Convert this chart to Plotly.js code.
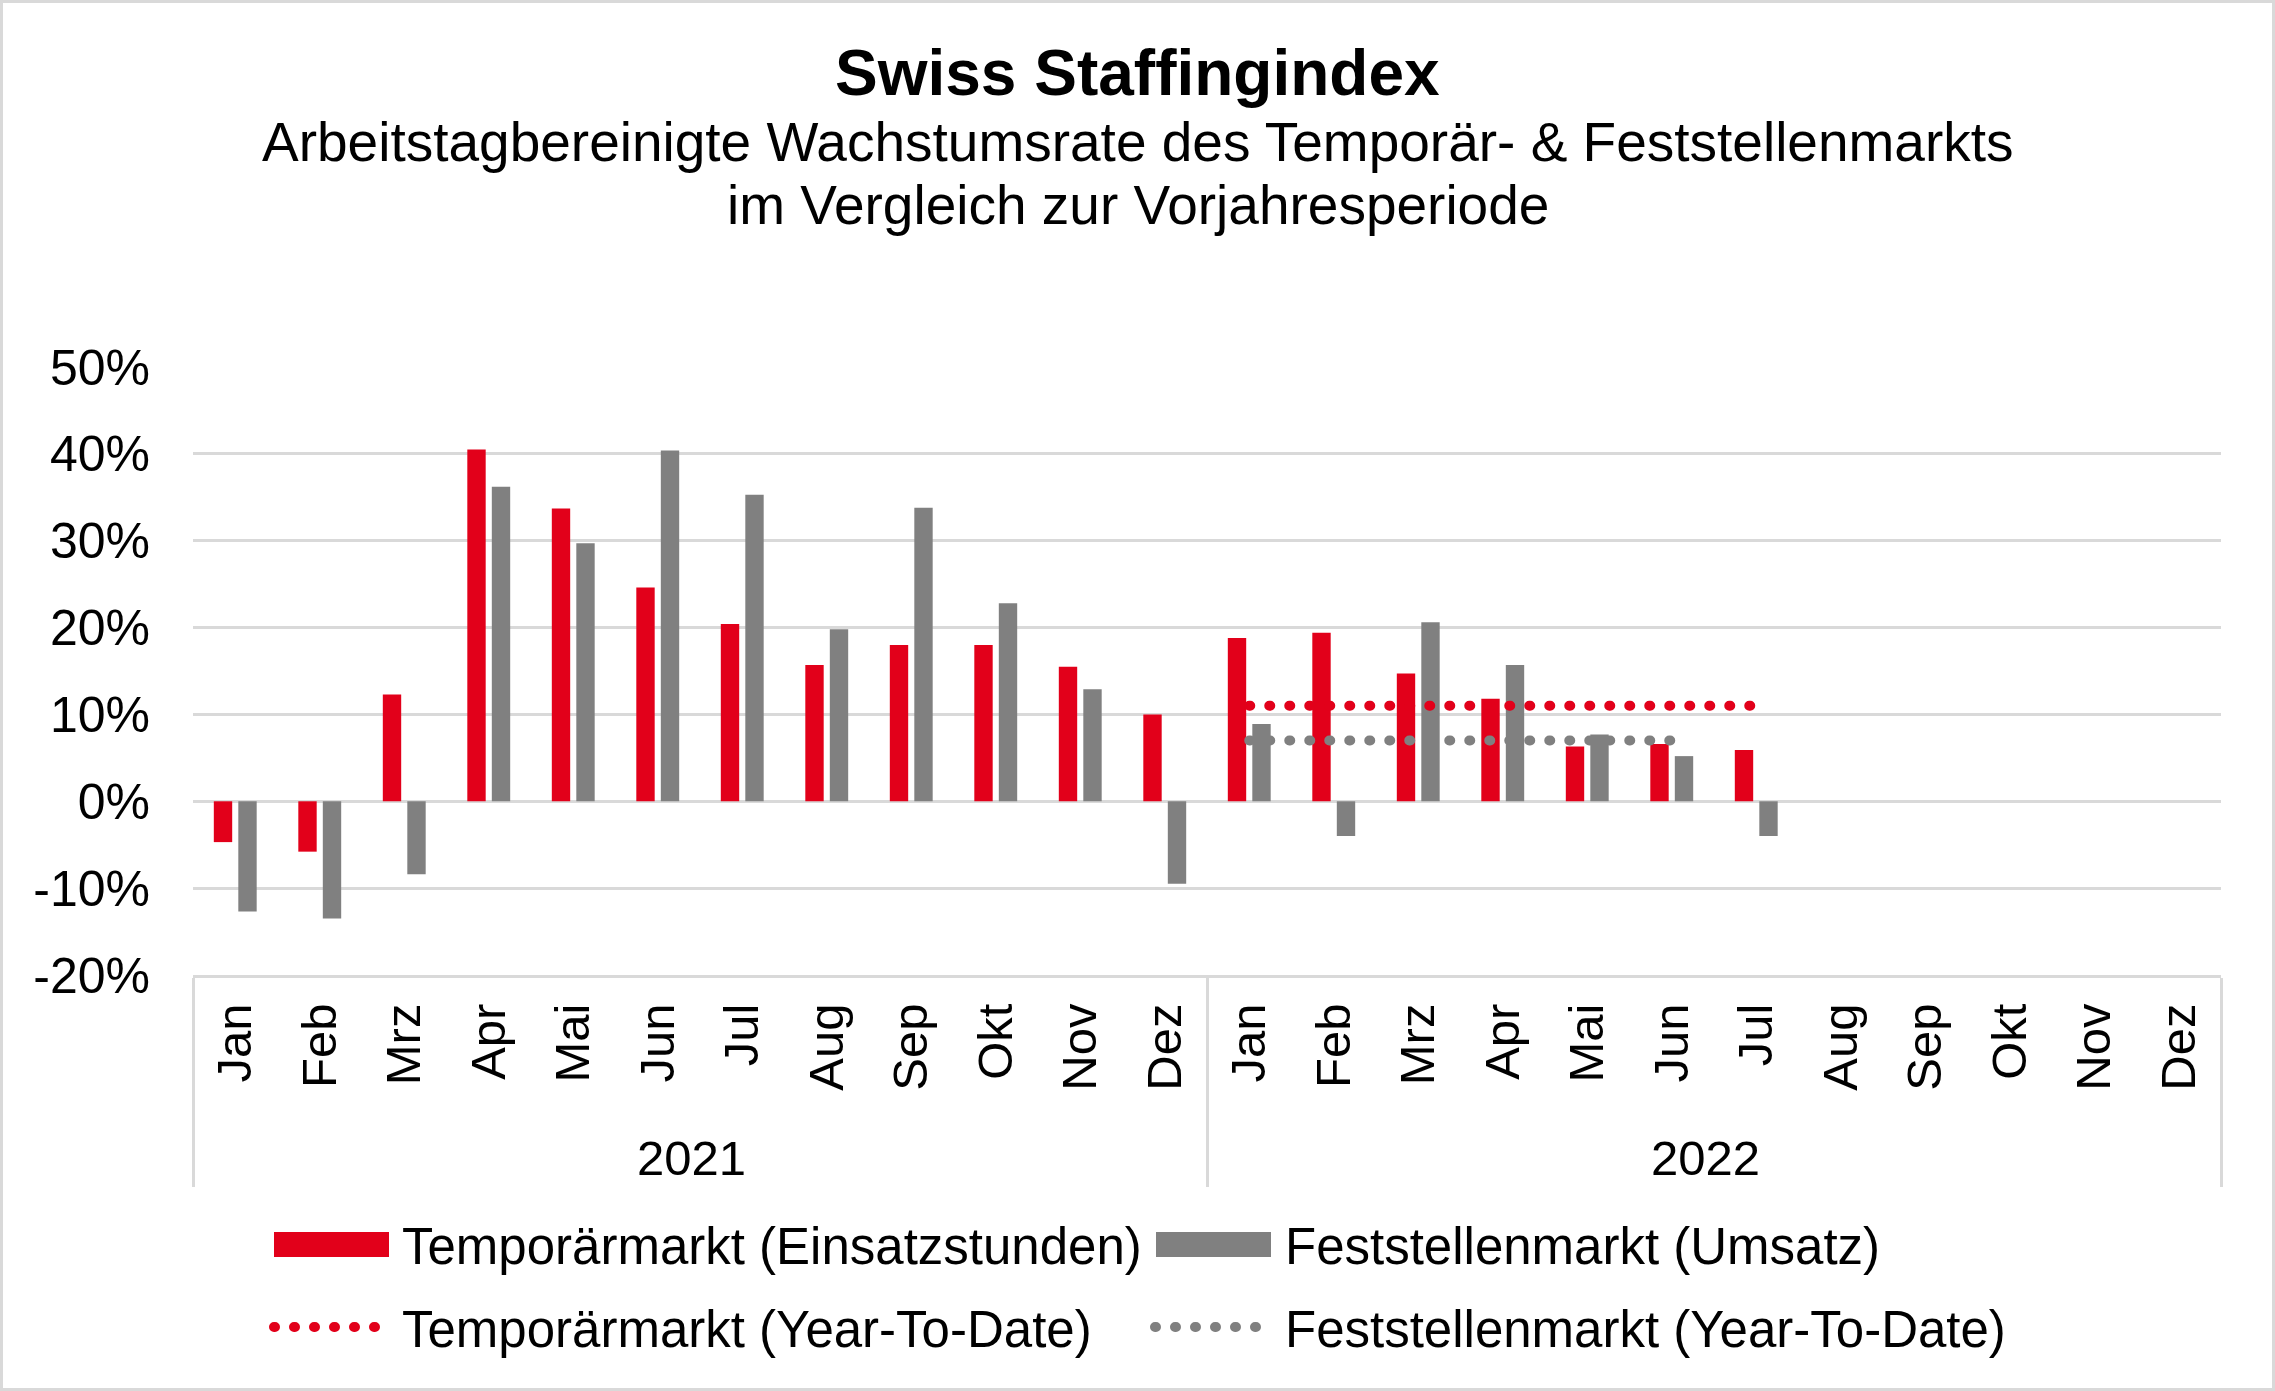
<!DOCTYPE html>
<html>
<head>
<meta charset="utf-8">
<script src="https://cdn.plot.ly/plotly-3.0.1.min.js"></script>
<style>html,body{margin:0;padding:0;background:#fff}#chart{width:2275px;height:1391px}</style>
</head>
<body>
<div id="chart"></div>
<script>
// ---------- DATA ----------
const years = ['2021','2021','2021','2021','2021','2021','2021','2021','2021','2021','2021','2021',
               '2022','2022','2022','2022','2022','2022','2022','2022','2022','2022','2022','2022'];
const months = ['Jan','Feb','Mrz','Apr','Mai','Jun','Jul','Aug','Sep','Okt','Nov','Dez',
                'Jan','Feb','Mrz','Apr','Mai','Jun','Jul','Aug','Sep','Okt','Nov','Dez'];
const temporaer = [-4.7,-5.8,12.3,40.5,33.7,24.6,20.4,15.7,18.0,18.0,15.5,10.0,
                   18.8,19.4,14.7,11.8,6.3,6.6,5.9,null,null,null,null,null];
const feststellen = [-12.7,-13.5,-8.4,36.2,29.7,40.4,35.3,19.8,33.8,22.8,12.9,-9.5,
                     8.9,-4.0,20.6,15.7,7.7,5.2,-4.0,null,null,null,null,null];
const ytdTempYears = ['2022','2022','2022','2022','2022','2022','2022'];
const ytdTempMonths = ['Jan','Feb','Mrz','Apr','Mai','Jun','Jul'];
const ytdTemp = [11.0,11.0,11.0,11.0,11.0,11.0,11.0];
const ytdFestYears = ['2022','2022','2022','2022','2022','2022'];
const ytdFestMonths = ['Jan','Feb','Mrz','Apr','Mai','Jun'];
const ytdFest = [7.0,7.0,7.0,7.0,7.0,7.0];
const yTickVals = [-20,-10,0,10,20,30,40,50];
const yTickText = ['-20%','-10%','0%','10%','20%','30%','40%','50%'];
const seriesNames = ['Temporärmarkt (Einsatzstunden)','Feststellenmarkt (Umsatz)',
                     'Temporärmarkt (Year-To-Date)','Feststellenmarkt (Year-To-Date)'];
const titleText = 'Swiss Staffingindex';
const subtitleLines = ['Arbeitstagbereinigte Wachstumsrate des Temporär- & Feststellenmarkts',
                       'im Vergleich zur Vorjahresperiode'];

// ---------- STYLE ----------
const RED = '#E2001A', GREY = '#808080', GRID = '#D9D9D9';
const FONT = 'Liberation Sans, Arial, sans-serif';
const FIG_W = 2275, FIG_H = 1391;
const L = 193, R = 54, T = 367, B = 416;
const PW = FIG_W - L - R, PH = FIG_H - T - B;
const px = x => (x - L) / PW;
const py = y => (T + PH - y) / PH;
const DOT = '1px,19px';

const traces = [
  {type:'bar', name:seriesNames[0], x:[years, months], y:temporaer,
   marker:{color:RED}, showlegend:false, hoverinfo:'skip'},
  {type:'bar', name:seriesNames[1], x:[years, months], y:feststellen,
   marker:{color:GREY}, showlegend:false, hoverinfo:'skip'},
  {type:'scatter', mode:'lines', name:seriesNames[2], x:[ytdTempYears, ytdTempMonths], y:ytdTemp,
   line:{color:RED, width:10, dash:DOT}, showlegend:false, hoverinfo:'skip'},
  {type:'scatter', mode:'lines', name:seriesNames[3], x:[ytdFestYears, ytdFestMonths], y:ytdFest,
   line:{color:GREY, width:10, dash:DOT}, showlegend:false, hoverinfo:'skip'}
];

const annotations = [
  {text:'<b>'+titleText+'</b>', xref:'paper', yref:'paper', x:px(1137.5), y:py(73), xanchor:'center', yanchor:'middle',
   showarrow:false, font:{family:FONT, size:64, color:'#000'}},
  {text:subtitleLines[0], xref:'paper', yref:'paper', x:px(1137.5), y:py(142), xanchor:'center', yanchor:'middle',
   showarrow:false, font:{family:FONT, size:55, color:'#000'}},
  {text:subtitleLines[1], xref:'paper', yref:'paper', x:px(1137.5), y:py(205), xanchor:'center', yanchor:'middle',
   showarrow:false, font:{family:FONT, size:55, color:'#000'}},
  {text:seriesNames[0], xref:'paper', yref:'paper', x:px(400), y:py(1246), xanchor:'left', yanchor:'middle',
   showarrow:false, font:{family:FONT, size:51, color:'#000'}},
  {text:seriesNames[1], xref:'paper', yref:'paper', x:px(1283), y:py(1246), xanchor:'left', yanchor:'middle',
   showarrow:false, font:{family:FONT, size:51, color:'#000'}},
  {text:seriesNames[2], xref:'paper', yref:'paper', x:px(400), y:py(1329), xanchor:'left', yanchor:'middle',
   showarrow:false, font:{family:FONT, size:51, color:'#000'}},
  {text:seriesNames[3], xref:'paper', yref:'paper', x:px(1283), y:py(1329), xanchor:'left', yanchor:'middle',
   showarrow:false, font:{family:FONT, size:51, color:'#000'}}
];

const shapes = [
  {type:'rect', xref:'paper', yref:'paper', x0:px(1.5), x1:px(FIG_W-1.5), y0:py(FIG_H-1.5), y1:py(1.5),
   line:{color:GRID, width:3}, fillcolor:'rgba(0,0,0,0)'},
  {type:'rect', xref:'paper', yref:'paper', x0:px(274), x1:px(389), y0:py(1257), y1:py(1232),
   line:{width:0}, fillcolor:RED},
  {type:'rect', xref:'paper', yref:'paper', x0:px(1156), x1:px(1271), y0:py(1257), y1:py(1232),
   line:{width:0}, fillcolor:GREY},
  {type:'line', xref:'paper', yref:'paper', x0:px(274), x1:px(380), y0:py(1327), y1:py(1327),
   line:{color:RED, width:10, dash:DOT}},
  {type:'line', xref:'paper', yref:'paper', x0:px(1155), x1:px(1262), y0:py(1327), y1:py(1327),
   line:{color:GREY, width:10, dash:DOT}}
];

const layout = {
  width:FIG_W, height:FIG_H, autosize:false,
  margin:{l:L, r:R, t:T, b:B, pad:0},
  paper_bgcolor:'#fff', plot_bgcolor:'#fff',
  font:{family:FONT, size:48, color:'#000'},
  barmode:'group', bargap:0.42, bargroupgap:0.25,
  showlegend:false,
  xaxis:{type:'multicategory', tickangle:-90, showgrid:false, zeroline:false,
         showline:true, linecolor:GRID, linewidth:3,
         showdividers:true, dividercolor:GRID, dividerwidth:3,
         ticks:'', ticklabelstandoff:6,
         tickfont:{family:FONT, size:49, color:'#000'}},
  yaxis:{range:[-20,50], tickvals:yTickVals, ticktext:yTickText, showgrid:true, gridcolor:GRID, gridwidth:3,
         zeroline:false, showline:false, ticks:'', ticklabelstandoff:42,
         tickfont:{family:FONT, size:50, color:'#000'}},
  annotations:annotations, shapes:shapes
};

Plotly.newPlot('chart', traces, layout, {staticPlot:true, displayModeBar:false}).then(() => {
  document.querySelectorAll('#chart path').forEach(p => {
    const da = p.style.strokeDasharray || p.getAttribute('stroke-dasharray');
    if (da && da !== 'none') { p.style.strokeLinecap = 'round'; }
  });
});
</script>
</body>
</html>
